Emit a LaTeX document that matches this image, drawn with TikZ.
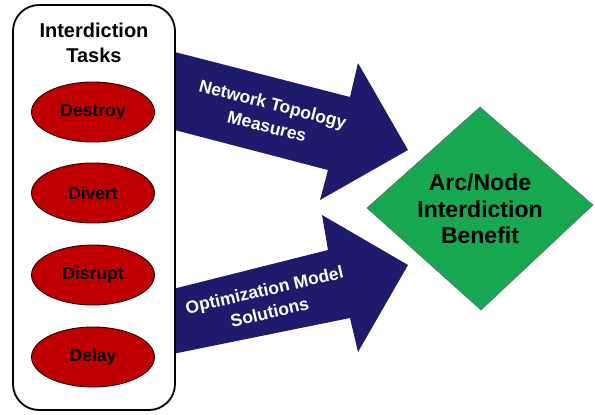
\documentclass[tikz,border=0pt]{standalone}
\usepackage{fontspec}
\setmainfont{Liberation Sans}
\usetikzlibrary{shapes.geometric}

\definecolor{arrownavy}{HTML}{1E1A6C}
\definecolor{taskred}{HTML}{C00000}
\definecolor{benefitgreen}{HTML}{17A851}

\tikzset{
  blockarrow/.style={fill=arrownavy, draw=none},
  taskitem/.style={ellipse, draw=black!80!taskred, line width=0.9pt, fill=taskred,
    minimum width=123pt, minimum height=60pt, inner sep=0pt,
    font=\bfseries\fontsize{17.5}{20}\selectfont, text=black},
  arrowlabel/.style={align=center, text=white,
    font=\bfseries\fontsize{17.5}{23}\selectfont},
}

\begin{document}
\begin{tikzpicture}[x=1pt, y=-1pt]
  \useasboundingbox (0,0) rectangle (595,415);
  \fill[white] (0,0) rectangle (595,415);

  % upper block arrow
  \fill[blockarrow] (165,49.5) -- (350,97) -- (358,63) -- (408,150)
    -- (320,200) -- (328,170) -- (165,127.5) -- cycle;
  % lower block arrow
  \fill[blockarrow] (165,291) -- (328,250) -- (322,215) -- (408,265)
    -- (358,352) -- (350,318) -- (165,355.5) -- cycle;

  % task panel
  \draw[line width=1.8pt, fill=white, rounded corners=26pt]
    (13,5) rectangle (175,410);
  \node[align=center, font=\bfseries\fontsize{20}{25}\selectfont]
    (title) at (94,43) {Interdiction\\Tasks};

  \node[taskitem] (destroy) at (93,112) {Destroy};
  \node[taskitem] (divert)  at (93,193) {Divert};
  \node[taskitem] (disrupt) at (93,275) {Disrupt};
  \node[taskitem] (delay)   at (93,357) {Delay};

  % arrow captions
  \node[arrowlabel, rotate=-14.4] (topo) at (270,115)
    {Network Topology\\Measures};
  \node[arrowlabel, rotate=13] (optim) at (267,301)
    {Optimization Model\\Solutions};

  % benefit diamond
  \fill[benefitgreen] (367,208) -- (480,107) -- (593,205) -- (481,310) -- cycle;
  \draw[black!60, line width=0.5pt] (367,208) -- (480,107) -- (593,205) -- (481,310) -- cycle;
  \node[align=center, font=\bfseries\fontsize{23}{26.5}\selectfont]
    (benefit) at (480,209) {Arc/Node\\Interdiction\\Benefit};
\end{tikzpicture}
\end{document}
